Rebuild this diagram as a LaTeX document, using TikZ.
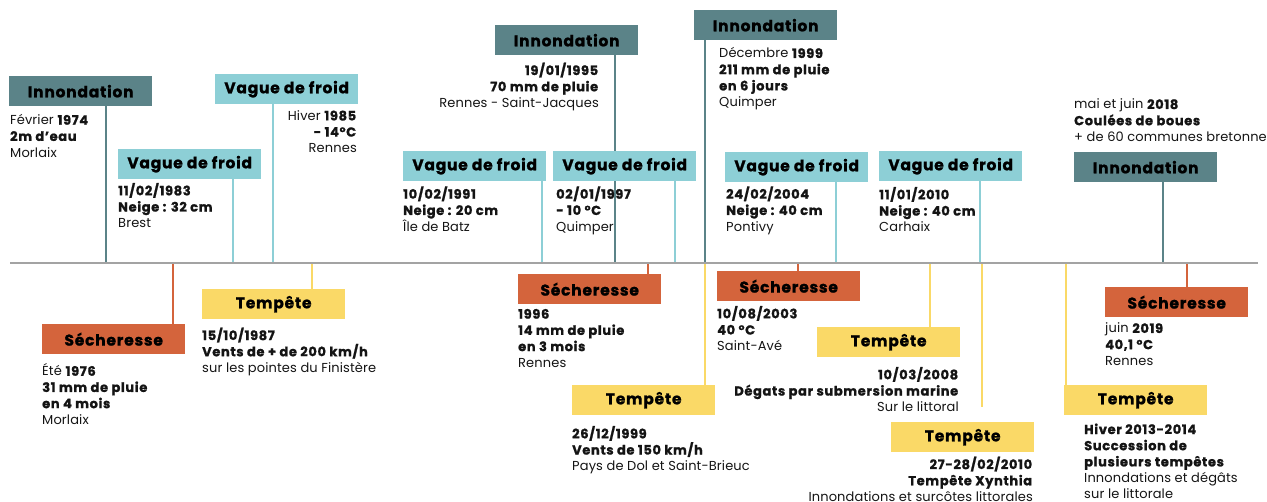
\documentclass[tikz,border=0pt]{standalone}
\usepackage{fontspec}
\setmainfont{Poppins}[LetterSpace=1,BoldFeatures={LetterSpace=5,FakeBold=1.2}]
\definecolor{cInn}{HTML}{5B8388}
\definecolor{cVag}{HTML}{8DCFD6}
\definecolor{cSec}{HTML}{D4643C}
\definecolor{cTem}{HTML}{FAD967}
\definecolor{cAxe}{HTML}{A3A3A3}
\definecolor{cTxt}{HTML}{141414}
\newcommand\Fs{\rule{0pt}{11pt}}
\pgfdeclarelayer{bg}
\pgfsetlayers{bg,main}
\begin{document}
\begin{tikzpicture}[x=1pt,y=-1pt,
  hbox/.style={minimum width=143pt,minimum height=30pt,inner sep=0pt,anchor=north west,
    font=\fontsize{15.5}{18}\selectfont\bfseries,text=black},
  inn/.style={hbox,fill=cInn},
  vag/.style={hbox,fill=cVag},
  sec/.style={hbox,fill=cSec},
  tem/.style={hbox,fill=cTem},
  txt/.style={inner sep=0pt,anchor=north west,align=left,text=cTxt,
    font=\fontsize{13}{16.2}\selectfont},
  txtr/.style={txt,anchor=north east,align=right},
  lnk/.style={line width=2.5pt},
  axe/.style={line width=2.5pt,draw=cAxe}]
\useasboundingbox (0,0) rectangle (1267,502);
\clip (0,0) rectangle (1267,502);
% boxes
\node[inn] (b1) at (9,76) {Innondation};
\node[vag] (b2) at (118,149) {Vague de froid};
\node[vag] (b3) at (215,74) {Vague de froid};
\node[inn] (b4) at (495,25) {Innondation};
\node[inn] (b5) at (694,10) {Innondation};
\node[vag] (b6) at (403,151) {Vague de froid};
\node[vag] (b7) at (553,151) {Vague de froid};
\node[vag] (b8) at (725,152) {Vague de froid};
\node[vag] (b9) at (879,151) {Vague de froid};
\node[inn] (b10) at (1074,152) {Innondation};
\node[sec] (b11) at (42,324) {Sécheresse};
\node[tem] (b12) at (202,289) {Tempête};
\node[sec] (b13) at (518,274) {Sécheresse};
\node[tem] (b14) at (572,385) {Tempête};
\node[sec] (b15) at (717,271) {Sécheresse};
\node[tem] (b16) at (817,327) {Tempête};
\node[tem] (b17) at (891,422) {Tempête};
\node[tem] (b18) at (1064,385) {Tempête};
\node[sec] (b19) at (1105,287) {Sécheresse};
% axis points
\coordinate (a1) at (106,263);
\coordinate (a2) at (233,263);
\coordinate (a3) at (273,263);
\coordinate (a4) at (615,263);
\coordinate (a5) at (705,263);
\coordinate (a6) at (542,263);
\coordinate (a7) at (675,263);
\coordinate (a8) at (836,263);
\coordinate (a9) at (980,263);
\coordinate (a10) at (1163,263);
\coordinate (a11) at (173,263);
\coordinate (a12) at (312,263);
\coordinate (a13) at (648,263);
\coordinate (a14) at (705,263);
\coordinate (a15) at (798,263);
\coordinate (a16) at (930,263);
\coordinate (a17) at (982,263);
\coordinate (e17) at (982,407);
\coordinate (a18) at (1066,263);
\coordinate (a19) at (1187,263);
\coordinate (ax0) at (10,263);
\coordinate (ax1) at (1258,263);
% connectors (behind the boxes)
\begin{pgfonlayer}{bg}
\draw[lnk,cInn] (a1 |- b1.south) -- (a1);
\draw[lnk,cVag] (a2 |- b2.south) -- (a2);
\draw[lnk,cVag] (a3 |- b3.south) -- (a3);
\draw[lnk,cInn] (a4 |- b4.south) -- (a4);
\draw[lnk,cInn] (a5 |- b5.south) -- (a5);
\draw[lnk,cVag] (a6 |- b6.south) -- (a6);
\draw[lnk,cVag] (a7 |- b7.south) -- (a7);
\draw[lnk,cVag] (a8 |- b8.south) -- (a8);
\draw[lnk,cVag] (a9 |- b9.south) -- (a9);
\draw[lnk,cInn] (a10 |- b10.south) -- (a10);
\draw[lnk,cSec] (a11) -- (a11 |- b11.north);
\draw[lnk,cTem] (a12) -- (a12 |- b12.north);
\draw[lnk,cSec] (a13) -- (a13 |- b13.north);
\draw[lnk,cTem] (a14) -- (a14 |- b14.north);
\draw[lnk,cSec] (a15) -- (a15 |- b15.north);
\draw[lnk,cTem] (a16) -- (a16 |- b16.north);
\draw[lnk,cTem] (a17) -- (e17);
\draw[lnk,cTem] (a18) -- (a18 |- b18.north);
\draw[lnk,cSec] (a19) -- (a19 |- b19.north);
\draw[axe] (ax0) -- (ax1);
\end{pgfonlayer}
% texts
\node[txt] (t1) at (10,113.5) {\Fs Février \textbf{1974}\\\textbf{2m d’eau}\\Morlaix};
\node[txt] (t2) at (118,182.8) {\Fs\textbf{11/02/1983}\\\textbf{Neige : 32 cm}\\Brest};
\node[txtr] (t3) at (357,109.2) {\Fs Hiver \textbf{1985}\\\textbf{- 14°C}\\Rennes};
\node[txtr] (t4) at (599,62.5) {\Fs\textbf{19/01/1995}\\\textbf{70 mm de pluie}\\Rennes - Saint-Jacques};
\node[txt] (t5) at (719,46.8) {\Fs Décembre \textbf{1999}\\\textbf{211 mm de pluie}\\\textbf{en 6 jours}\\Quimper};
\node[txt] (t6) at (403,186.2) {\Fs\textbf{10/02/1991}\\\textbf{Neige : 20 cm}\\Île de Batz};
\node[txt] (t7) at (556,186.2) {\Fs\textbf{02/01/1997}\\\textbf{- 10 °C}\\Quimper};
\node[txt] (t8) at (726,186.2) {\Fs\textbf{24/02/2004}\\\textbf{Neige : 40 cm}\\Pontivy};
\node[txt] (t9) at (879,186.8) {\Fs\textbf{11/01/2010}\\\textbf{Neige : 40 cm}\\Carhaix};
\node[txt] (t10) at (1074,97.8) {\Fs mai et juin \textbf{2018}\\\textbf{Coulées de boues}\\+ de 60 communes bretonnes};
\node[txt] (t11) at (42,363.5) {\Fs Été \textbf{1976}\\\textbf{31 mm de pluie}\\\textbf{en 4 mois}\\Morlaix};
\node[txt] (t12) at (202,327.5) {\Fs\textbf{15/10/1987}\\\textbf{Vents de + de 200 km/h}\\sur les pointes du Finistère};
\node[txt] (t13) at (518,307.5) {\Fs\textbf{1996}\\\textbf{14 mm de pluie}\\\textbf{en 3 mois}\\Rennes};
\node[txt] (t14) at (572,425.8) {\Fs\textbf{26/12/1999}\\\textbf{Vents de 150 km/h}\\Pays de Dol et Saint-Brieuc};
\node[txt] (t15) at (717,305.8) {\Fs\textbf{10/08/2003}\\\textbf{40 °C}\\Saint-Avé};
\node[txtr] (t16) at (959,366.8) {\Fs\textbf{10/03/2008}\\\textbf{Dégats par submersion marine}\\Sur le littoral};
\node[txtr] (t17) at (1033,456.5) {\Fs\textbf{27-28/02/2010}\\\textbf{Tempête Xynthia}\\Innondations et surcôtes littorales};
\node[txt] (t18) at (1084,422.8) {\Fs\textbf{Hiver 2013-2014}\\\textbf{Succession de}\\\textbf{plusieurs tempêtes}\\Innondations et dégâts\\sur le littorale};
\node[txt] (t19) at (1105,321.8) {\Fs juin \textbf{2019}\\\textbf{40,1 °C}\\Rennes};
\end{tikzpicture}
\end{document}
